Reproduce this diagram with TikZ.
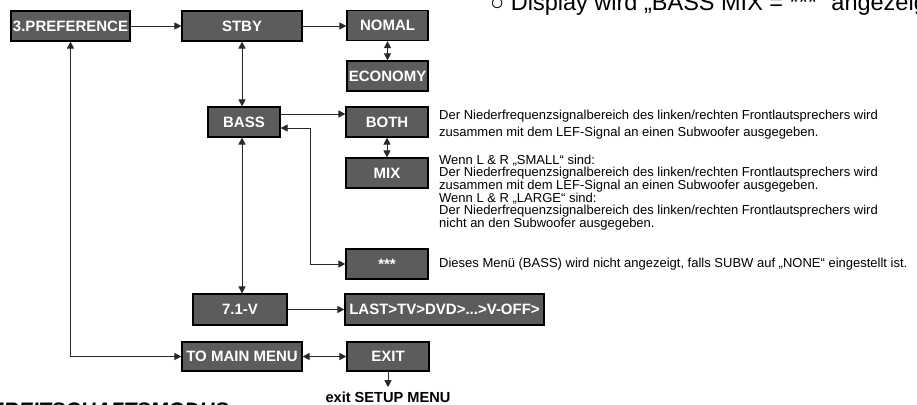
\documentclass[tikz,border=0pt]{standalone}
\usepackage{fontspec}
\setmainfont{Liberation Sans}
\usetikzlibrary{arrows.meta,calc}
\definecolor{boxgray}{RGB}{92,92,92}
\definecolor{linegray}{RGB}{40,40,40}
\begin{document}
\begin{tikzpicture}[x=1pt,y=-1pt,
  box/.style={draw=black,line width=1.2pt,fill=boxgray,text=white,
    font=\fontsize{15}{15}\selectfont\bfseries,inner sep=0pt,minimum height=30pt},
  conn/.style={line width=0.9pt,draw=linegray},
  tip/.tip={Triangle[length=7pt,width=7pt]},
  arr/.style={conn,-tip},
  darr/.style={conn,tip-tip},
  desc/.style={align=left,inner sep=0pt,anchor=north west},
  descline/.style={inner sep=0pt,anchor=base west,font=\fontsize{13}{13}\selectfont},
]
\useasboundingbox (0,0) rectangle (917,404);
\clip (0,0) rectangle (917,404);

% boxes
\node[box,minimum width=119pt] (pref) at (70.5,26) {3.PREFERENCE};
\node[box,minimum width=120pt] (stby) at (242,26) {STBY};
\node[box,minimum width=81pt] (nomal) at (387.5,25.5) {NOMAL};
\node[box,minimum width=81pt] (economy) at (387.5,76) {ECONOMY};
\node[box,minimum width=72pt] (bass) at (244,122) {BASS};
\node[box,minimum width=82pt] (both) at (387,122) {BOTH};
\node[box,minimum width=82pt] (mix) at (387,173) {MIX};
\node[box,minimum width=82pt] (stars) at (387,264) {***};
\node[box,minimum width=94pt,minimum height=31pt] (v71) at (240,309.5) {7.1-V};
\node[box,minimum width=199pt,minimum height=31pt] (last) at (444.5,309.5) {LAST>TV>DVD>...>V-OFF>};
\node[box,minimum width=120pt,minimum height=29pt] (tomain) at (242,356.5) {TO MAIN MENU};
\node[box,minimum width=82pt,minimum height=29pt] (exit) at (388,356.5) {EXIT};

% helper coordinates
\coordinate (k1) at (310,128);
\coordinate (k2) at (310,264);
\coordinate (colx) at (242,0);

% connectors
\draw[arr] (pref) -- (stby);
\draw[arr] (stby.east) -- (nomal.west |- stby.east);
\draw[darr] (nomal) -- (economy);
\draw[darr] (stby.south) -- (stby.south |- bass.north);
\draw[arr] ([yshift=8pt]bass.east) -- ([yshift=8pt]both.west);
\draw[darr] (bass.east |- k1) -- (k1) -- (k2) -- (stars.west |- k2);
\draw[darr] (both) -- (mix);
\draw[darr] (bass.south -| colx) -- (v71.north -| colx);
\draw[arr] (v71) -- (last);
\draw[darr] (pref.south) |- (tomain.west);
\draw[darr] (tomain) -- (exit);

\node[font=\fontsize{14.6}{15}\selectfont\bfseries,anchor=base,inner sep=0pt] (exittxt) at (388,402) {exit SETUP MENU};
\draw[arr] (exit.south) -- ([yshift=4pt]exittxt.north);

% descriptions
\node[desc,font=\fontsize{13}{17}\selectfont] (dboth) at (439,110.3)
  {Der Niederfrequenzsignalbereich des linken/rechten Frontlautsprechers wird\\
   zusammen mit dem LEF-Signal an einen Subwoofer ausgegeben.};
\node[desc,font=\fontsize{13}{10.6}\selectfont] (dmix) at (439,154.4)
  {Wenn L \& R „SMALL“ sind:\\
   Der Niederfrequenzsignalbereich des linken/rechten Frontlautsprechers wird\\
   zusammen mit dem LEF-Signal an einen Subwoofer ausgegeben.\\
   Wenn L \& R „LARGE“ sind:\\
   Der Niederfrequenzsignalbereich des linken/rechten Frontlautsprechers wird\\
   nicht an den Subwoofer ausgegeben.};
\node[descline] (dstars) at (439,267.7)
  {Dieses Menü (BASS) wird nicht angezeigt, falls SUBW auf „NONE“ eingestellt ist.};

% cut-off texts at the edges
\node[font=\fontsize{23.5}{24}\selectfont,anchor=base west,inner sep=0pt] (disp) at (490,11)
  {○ Display wird „BASS MIX = ***“ angezeigt.};
\node[font=\fontsize{21}{21}\selectfont\bfseries\itshape,anchor=base west,inner sep=0pt] (bereit) at (-26,417)
  {BEREITSCHAFTSMODUS};
\end{tikzpicture}
\end{document}
